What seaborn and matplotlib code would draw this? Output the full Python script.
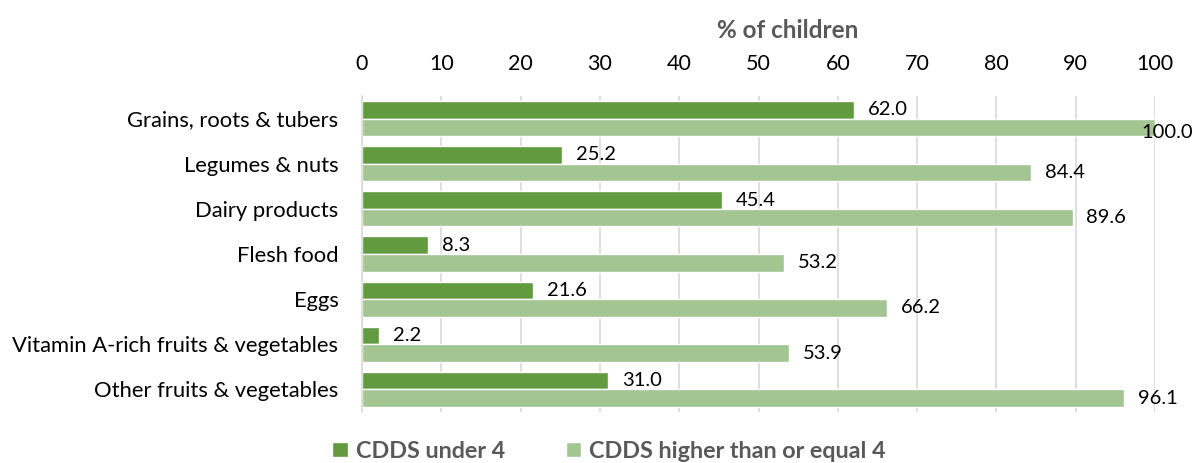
import matplotlib
matplotlib.use("Agg")
import matplotlib.pyplot as plt
import seaborn as sns
import pandas as pd
import numpy as np

categories = ["Grains, roots & tubers", "Legumes & nuts", "Dairy products", "Flesh food",
              "Eggs", "Vitamin A-rich fruits & vegetables", "Other fruits & vegetables"]
series_names = ["CDDS under 4", "CDDS higher than or equal 4"]
under4 = [62.0, 25.2, 45.4, 8.3, 21.6, 2.2, 31.0]
ge4 = [100.0, 84.4, 89.6, 53.2, 66.2, 53.9, 96.1]
xticks = [0, 10, 20, 30, 40, 50, 60, 70, 80, 90, 100]

df = pd.DataFrame({
    "category": categories * 2,
    "value": under4 + ge4,
    "series": [series_names[0]] * len(categories) + [series_names[1]] * len(categories),
})

sns.set_theme(style="white")
plt.rcParams['font.family'] = ['Lato', 'DejaVu Sans']

fig = plt.figure(figsize=(12.03, 4.63), dpi=100)
ax = fig.add_axes([362/1203, 1 - 412/463, (1155-362)/1203, (412-96)/463])

colors = ["#629A3F", "#A3C591"]
sns.barplot(data=df, y="category", x="value", hue="series", palette=colors,
            width=0.78, ax=ax, saturation=1, legend=True, orient="h")

for c in ax.containers:
    anns = ax.bar_label(c, fmt="%.1f", padding=10, fontsize=14.5, color="#000000")
    for a in anns:
        if a.get_text() == "100.0":
            a.xyann = (-10, -4)

ax.set_xlim(0, 100)
ax.set_xticks(xticks)
ax.xaxis.tick_top()
ax.tick_params(axis="x", length=0, labelsize=15.5, pad=16, colors="#000000")
ax.tick_params(axis="y", length=0, labelsize=15.8, pad=17, colors="#000000")
ax.set_ylim(len(categories) - 0.5, -0.5)
ax.set_yticks(np.arange(len(categories) + 1) - 0.5, minor=True)
ax.tick_params(axis="y", which="minor", length=5, color="#D9D9D9", width=1.2, direction="out")
ax.grid(axis="x", color="#D9D9D9", linewidth=1.2)
ax.set_axisbelow(True)
for s in ["top", "right", "bottom"]:
    ax.spines[s].set_visible(False)
ax.spines["left"].set_color("#D9D9D9")
ax.spines["left"].set_linewidth(1.2)
ax.set_xlabel("")
ax.set_ylabel("")

fig.text(788/1203, 1 - 31/463, "% of children", ha="center", va="center",
         fontsize=17.5, fontweight="bold", color="#595959")

handles, labels = ax.get_legend_handles_labels()
ax.legend_.remove()
leg = fig.legend(handles, labels, loc="center", bbox_to_anchor=(609/1203, 1 - 451/463),
                 ncol=2, frameon=False, fontsize=16.8, handlelength=0.65, handleheight=0.65,
                 handletextpad=0.35, columnspacing=2.6)
for t in leg.get_texts():
    t.set_fontweight("bold")
    t.set_color("#595959")

fig.savefig("out.png", dpi=100)
